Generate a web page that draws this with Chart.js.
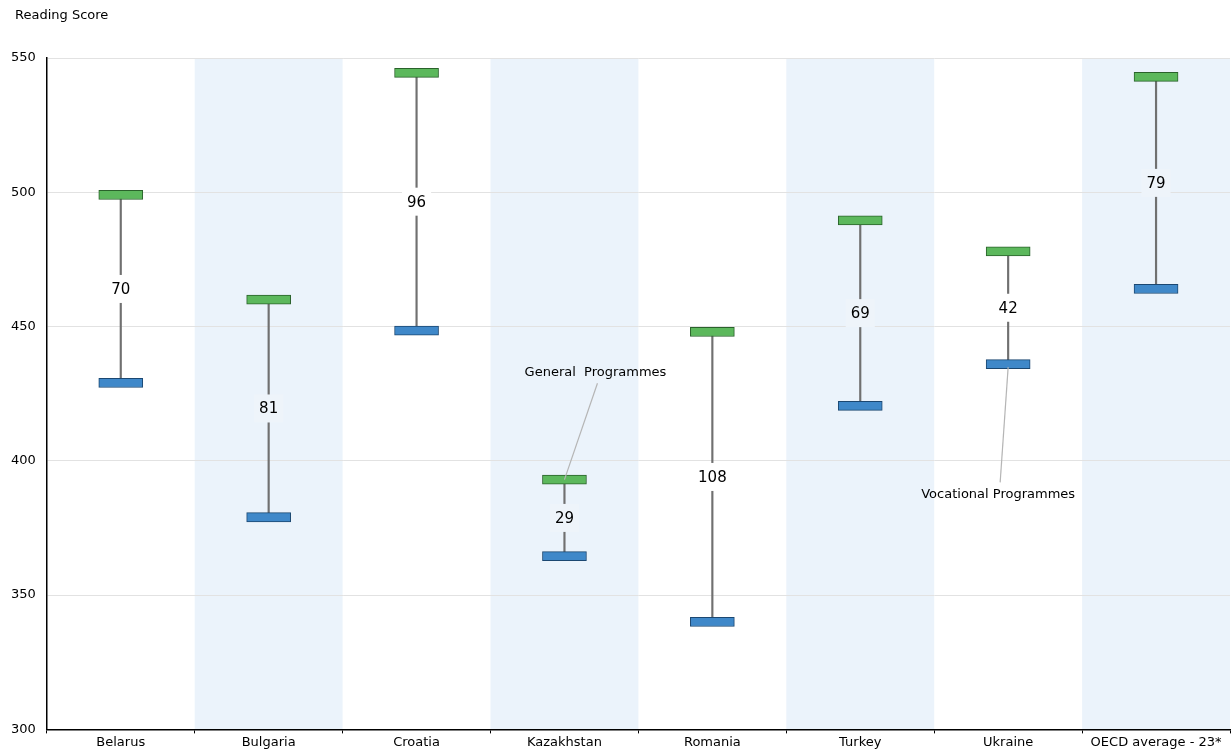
<!DOCTYPE html>
<html>
<head>
<meta charset="utf-8">
<script src="https://cdn.jsdelivr.net/npm/chart.js@4.4.1/dist/chart.umd.min.js"></script>
<style>
  html, body { margin: 0; padding: 0; background: #fff; }
  #wrap { width: 1231px; height: 752px; position: relative; }
</style>
</head>
<body>
<div id="wrap"><canvas id="scoreChart"></canvas></div>
<script>
// ==================== DATA ====================
const categories = ['Belarus', 'Bulgaria', 'Croatia', 'Kazakhstan', 'Romania', 'Turkey', 'Ukraine', 'OECD average - 23*'];
const generalScores = [499, 460, 544.5, 393, 448, 489.5, 478, 543];
const vocationalScores = [429, 379, 448.5, 364.5, 340, 420.5, 436, 464];
const gapLabels = [70, 81, 96, 29, 108, 69, 42, 79];
const yTicks = [300, 350, 400, 450, 500, 550];

const FONT = '"DejaVu Sans", Verdana, sans-serif';
const BAND = '#ebf3fb';
const HALF = 1.7; // half height of the marker, in score points

// alternating background bands
const bandPlugin = {
    id: 'bands',
    beforeDraw(chart) {
        let ctx = chart.ctx, x = chart.scales.x, area = chart.chartArea;
        let w = x.width / categories.length;
        ctx.save();
        ctx.fillStyle = BAND;
        categories.forEach((c, i) => {
            if (i % 2 === 1) {
                let cx = x.getPixelForValue(i);
                ctx.fillRect(cx - w / 2, area.top, w, area.bottom - area.top);
            }
        });
        ctx.restore();
    }
};

// gap labels, callouts and the axis title
const labelPlugin = {
    id: 'gapLabels',
    afterDatasetsDraw(chart) {
        let ctx = chart.ctx, x = chart.scales.x, y = chart.scales.y;
        ctx.save();
        ctx.font = '15px ' + FONT;
        ctx.textAlign = 'center';
        ctx.textBaseline = 'middle';
        gapLabels.forEach((g, i) => {
            let cx = x.getPixelForValue(i);
            let cy = (y.getPixelForValue(generalScores[i]) + y.getPixelForValue(vocationalScores[i])) / 2;
            let tw = ctx.measureText(String(g)).width;
            ctx.fillStyle = i % 2 === 1 ? '#eef4fa' : '#fff';
            ctx.fillRect(cx - tw / 2 - 5, cy - 14, tw + 10, 28);
            ctx.fillStyle = '#000';
            ctx.fillText(String(g), cx, cy + 1);
        });

        // callouts
        ctx.font = '13px ' + FONT;
        ctx.strokeStyle = '#b5b5b5';
        ctx.lineWidth = 1.2;
        let kx = x.getPixelForValue(3), ky = y.getPixelForValue(generalScores[3]);
        let gx = kx + 31, gy = y.getPixelForValue(generalScores[3] + 40);
        ctx.beginPath();
        ctx.moveTo(gx + 2, gy + 11);
        ctx.lineTo(kx, ky);
        ctx.stroke();
        ctx.fillStyle = '#000';
        ctx.fillText('General  Programmes', gx, gy);

        let ux = x.getPixelForValue(6), uy = y.getPixelForValue(vocationalScores[6]);
        let vx = ux - 10, vy = y.getPixelForValue(vocationalScores[6] - 48.5);
        ctx.beginPath();
        ctx.moveTo(ux, uy + 3);
        ctx.lineTo(vx + 2, vy - 12);
        ctx.stroke();
        ctx.fillText('Vocational Programmes', vx, vy);

        ctx.textAlign = 'left';
        ctx.fillText('Reading Score', 15, 16);
        ctx.restore();
    }
};

new Chart(document.getElementById('scoreChart'), {
    type: 'bar',
    data: {
        labels: categories,
        datasets: [
            {
                label: 'General Programmes',
                data: generalScores.map(v => [v - HALF, v + HALF]),
                backgroundColor: '#5cb85c',
                borderColor: '#2a622b',
                borderWidth: 1,
                borderSkipped: false,
                barThickness: 44,
                order: 1
            },
            {
                label: 'Vocational Programmes',
                data: vocationalScores.map(v => [v - HALF, v + HALF]),
                backgroundColor: '#3f88c9',
                borderColor: '#1b4771',
                borderWidth: 1,
                borderSkipped: false,
                barThickness: 44,
                order: 1
            },
            {
                label: 'Gap',
                data: vocationalScores.map((v, i) => [v, generalScores[i]]),
                backgroundColor: '#707070',
                barThickness: 1.5,
                order: 3
            }
        ]
    },
    options: {
        responsive: true,
        maintainAspectRatio: false,
        animation: false,
        datasets: { bar: { grouped: false } },
        layout: { padding: { top: 58, left: 0, right: 1, bottom: 1 } },
        plugins: {
            legend: { display: false },
            tooltip: { enabled: false }
        },
        scales: {
            x: {
                grid: { display: true, drawOnChartArea: false, offset: true, color: '#000', tickLength: 4 },
                border: { color: '#000', width: 1.5 },
                ticks: { color: '#000', font: { family: FONT, size: 13 }, padding: 1 }
            },
            y: {
                min: 300,
                max: 550,
                afterBuildTicks(axis) { axis.ticks = yTicks.map(v => ({ value: v })); },
                grid: { color: '#e2e2e2', drawTicks: false },
                border: { color: '#000', width: 1.5 },
                ticks: { color: '#000', font: { family: FONT, size: 13 }, padding: 11 }
            }
        }
    },
    plugins: [bandPlugin, labelPlugin]
});
</script>
</body>
</html>
